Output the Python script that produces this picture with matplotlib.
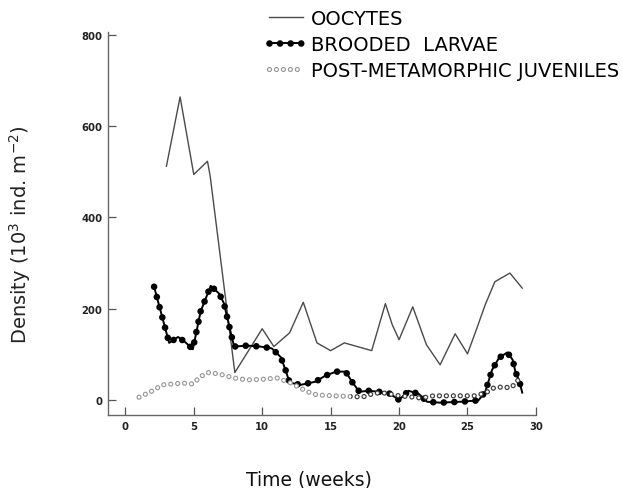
import matplotlib
matplotlib.use('Agg')
import matplotlib.pyplot as plt
from matplotlib.transforms import Bbox, TransformedBbox

plt.rcParams['font.family'] = ['DejaVu Sans']
plt.rcParams['lines.scale_dashes'] = False

# Oocytes (thin line)
oocyte_weeks = [3, 4, 5, 6, 6.2, 8, 10, 10.85, 12, 13, 14, 15, 16, 18, 19, 19.5, 20, 21,
                22, 23, 24.1, 25, 25.6, 26.3, 27, 28.1, 29]
oocyte_density = [512, 664, 494, 523, 490, 60, 156, 117, 147, 214, 125, 108, 125, 108, 211, 165,
                  132, 204, 121, 77, 145, 101, 150, 209, 259, 278, 245]

# Brooded larvae (line with filled dots)
larvae_weeks = [2.1, 3.2, 3.85, 4.4, 4.93, 5.5, 6.24, 6.85, 7.2, 7.75, 7.95, 8.9, 9.85, 10.7,
                11.35, 11.7, 12.0, 12.8, 13.9, 14.6, 15.4, 16.1, 16.6, 17.1, 17.8, 18.5, 19.25,
                20, 20.7, 21.45, 22.05, 23, 24.5, 25.8, 26.3, 26.8, 27.3, 27.9, 28.3, 28.5,
                28.8, 29]
larvae_density = [248, 125, 138, 126, 111, 194, 250, 233, 212, 141, 117, 119, 117, 113,
                  94, 66, 38, 33, 40, 53, 62, 62, 38, 18, 20, 18, 15,
                  0, 20, 13, -4, -6, -4, -1, 18, 66, 92, 104, 88, 62,
                  40, 16]

# Post-metamorphic juveniles (open circles)
juv_weeks = [1.0, 1.86, 2.7, 4.2, 4.9, 5.5, 6.0, 6.85, 7.95, 8.9, 9.9, 11.1, 12.1, 13.3, 14.0,
             15.2, 16.95, 17.4, 18.2, 19, 20, 20.8, 21.6, 22.5, 23.8, 25.5, 26.3, 26.9, 27.65,
             28.1, 28.5, 28.8]
juv_density = [6, 18, 33, 37, 35, 51, 60, 57, 48, 44, 45, 48, 37, 18, 11,
               9, 7, 7, 15, 15, 9, 7, 4, 9, 9, 9, 15, 26, 29,
               26, 35, 48]

x_ticks = [0, 5, 10, 15, 20, 25, 30]
y_ticks = [0, 200, 400, 600, 800]

fig = plt.figure(figsize=(6.22, 4.89), dpi=100)
ax = fig.add_axes([0.1736, 0.1493, 0.688, 0.783])

oo, = ax.plot(oocyte_weeks, oocyte_density, color='#4a4a4a', lw=1.0)

lar_line, = ax.plot(larvae_weeks, larvae_density, color='black', lw=1.4)
lar_dots, = ax.plot(larvae_weeks, larvae_density, color='black', lw=4.8,
                    linestyle=(0, (0.01, 7.6)), dash_capstyle='round')

# the scan shows the juvenile circles pale in the first half, dark later
left_part = TransformedBbox(Bbox([[-5, -100], [16.5, 900]]), ax.transData)
right_part = TransformedBbox(Bbox([[16.5, -100], [35, 900]]), ax.transData)
dot_style = dict(linestyle=(0, (0.01, 5.0)), dash_capstyle='round')
handles_juv = []
for part, ring in [(left_part, '#9a9a9a'), (right_part, '#3a3a3a')]:
    j_out, = ax.plot(juv_weeks, juv_density, color=ring, lw=3.8, **dot_style)
    j_in, = ax.plot(juv_weeks, juv_density, color='white', lw=2.1, **dot_style)
    j_out.set_clip_box(part)
    j_in.set_clip_box(part)
    handles_juv.append((j_out, j_in))

ax.set_xlim(-1.27, 30)
ax.set_ylim(-33, 806)
ax.set_xticks(x_ticks)
ax.set_yticks(y_ticks)
for s in ['top', 'right']:
    ax.spines[s].set_visible(False)
for s in ['left', 'bottom']:
    ax.spines[s].set_color('#666666')
    ax.spines[s].set_linewidth(1.0)
ax.tick_params(direction='in', length=6, width=0.9, color='#555555', labelsize=8,
               labelcolor='#222222')
ax.tick_params(axis='x', pad=4)
ax.tick_params(axis='y', pad=4)
for lab in ax.get_xticklabels() + ax.get_yticklabels():
    lab.set_fontweight('bold')
    lab.set_fontstretch('condensed')

ax.set_xlabel('Time (weeks)', fontsize=13.5, color='#111111')
ax.xaxis.set_label_coords(0.47, -0.143)
ax.set_ylabel('Density (10$^3$ ind. m$^{-2}$)', fontsize=14, color='#222222')
ax.yaxis.set_label_coords(-0.175, 0.475)

ax.legend([oo, (lar_line, lar_dots), handles_juv[0]],
          ['OOCYTES', 'BROODED  LARVAE', 'POST-METAMORPHIC JUVENILES'],
          loc='upper left', bbox_to_anchor=(0.4325, 0.98), bbox_transform=fig.transFigure,
          frameon=False, fontsize=14, handlelength=1.75, handletextpad=0.42,
          labelspacing=0.36, borderpad=0, borderaxespad=0)

fig.savefig('out.png', dpi=100)
